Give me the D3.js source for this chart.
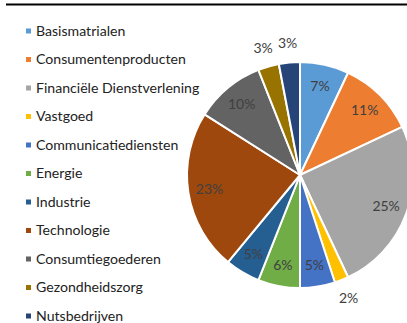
<!DOCTYPE html>
<html>
<head>
<meta charset="utf-8">
<script src="https://cdn.jsdelivr.net/npm/d3@7"></script>
<style>
  html, body { margin: 0; padding: 0; background: #fff; }
  svg { display: block; }
</style>
</head>
<body>
<svg id="chart" width="407" height="323"></svg>
<script>
// Sector allocation (percent of portfolio)
const categories = [
  "Basismatrialen",
  "Consumentenproducten",
  "Financiële Dienstverlening",
  "Vastgoed",
  "Communicatiediensten",
  "Energie",
  "Industrie",
  "Technologie",
  "Consumtiegoederen",
  "Gezondheidszorg",
  "Nutsbedrijven"
];
const values = [7, 11, 25, 2, 5, 6, 5, 23, 10, 3, 3];
const colors = [
  "#5B9BD5", "#ED7D31", "#A5A5A5", "#FFC000", "#4472C4", "#70AD47",
  "#255E91", "#9E480E", "#636363", "#997300", "#264478"
];

const W = 407, H = 323;
const svg = d3.select("#chart");
const fontFamily = "Lato, 'Open Sans', sans-serif";

// Top rule
svg.append("line")
  .attr("x1", 6).attr("x2", W).attr("y1", 4.5).attr("y2", 4.5)
  .attr("stroke", "#000").attr("stroke-width", 2);

// Pie
const cx = 300, cy = 175, R = 113;
const data = categories.map((c, i) => ({ name: c, value: values[i], color: colors[i] }));
const pie = d3.pie().value(d => d.value).sort(null);
const arcs = pie(data);
const arc = d3.arc().innerRadius(0).outerRadius(R);

const g = svg.append("g").attr("transform", `translate(${cx},${cy})`);
g.selectAll("path.slice")
  .data(arcs)
  .join("path")
  .attr("class", "slice")
  .attr("d", arc)
  .attr("fill", d => d.data.color)
  .attr("stroke", "#fff")
  .attr("stroke-width", 2)
  .attr("stroke-linejoin", "round");

// Labels: large slices inside, small slices just outside the rim
const inner = d3.arc().innerRadius(R * 0.81).outerRadius(R * 0.81);
const outer = d3.arc().innerRadius(R + 19).outerRadius(R + 19);
g.selectAll("text.lbl")
  .data(arcs)
  .join("text")
  .attr("class", "lbl")
  .attr("transform", d => `translate(${(d.data.value < 4 ? outer : inner).centroid(d)})`)
  .attr("text-anchor", "middle")
  .attr("dy", "0.35em")
  .attr("font-family", fontFamily)
  .attr("font-size", 14)
  .attr("fill", "#404040")
  .text(d => d.data.value + "%");

// Legend
const legendX = 26, legendY0 = 31, legendStep = 28.5;
const lg = svg.append("g");
const items = lg.selectAll("g.item")
  .data(data)
  .join("g")
  .attr("class", "item")
  .attr("transform", (d, i) => `translate(${legendX},${legendY0 + i * legendStep})`);
items.append("rect")
  .attr("x", 0).attr("y", -2.5).attr("width", 5).attr("height", 5)
  .attr("fill", d => d.color);
items.append("text")
  .attr("x", 10).attr("dy", "0.35em")
  .attr("font-family", fontFamily)
  .attr("font-size", 14.1)
  .attr("fill", "#222")
  .text(d => d.name);
</script>
</body>
</html>
